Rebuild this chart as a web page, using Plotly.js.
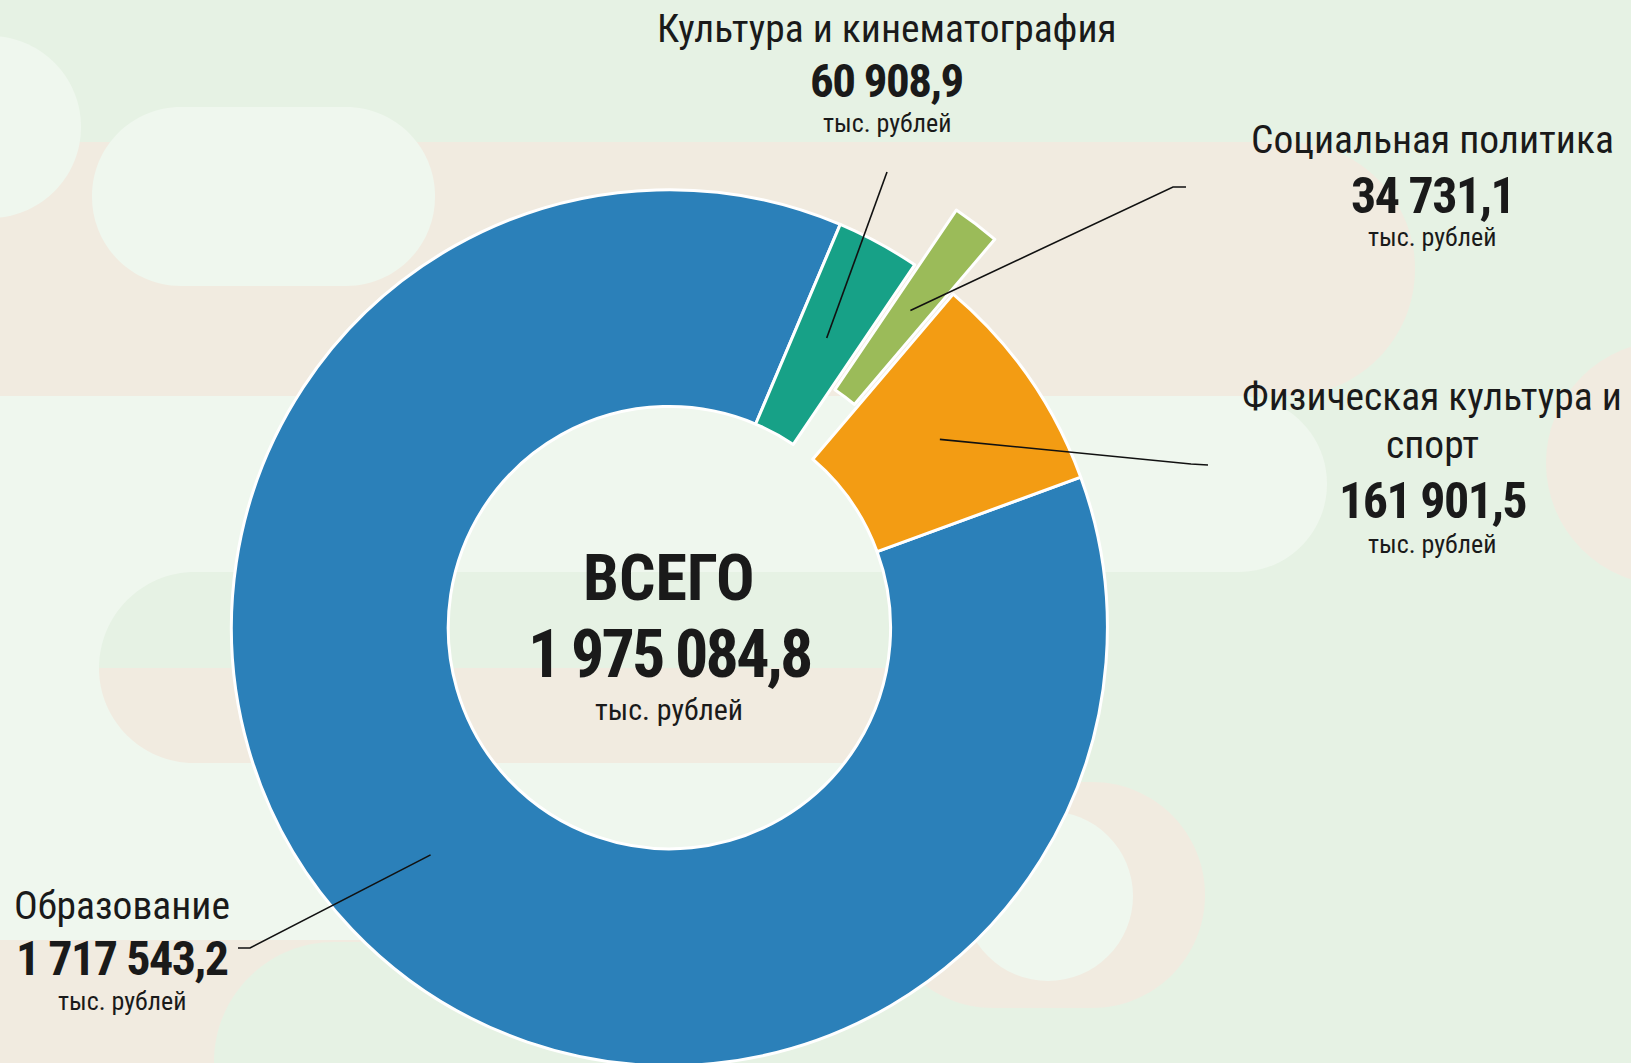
<!DOCTYPE html>
<html><head><meta charset="utf-8">
<script src="https://cdn.plot.ly/plotly-3.0.1.min.js"></script>
<style>
html,body{margin:0;padding:0;overflow:hidden;background:#e6f2e4}
#wrap{position:relative;width:1631px;height:1063px;overflow:hidden}
#chart{position:absolute;left:0;top:0;width:1631px;height:1140px}
</style>
</head><body><div id="wrap"><div id="chart"></div></div>
<script>
// ---- data ----
const categories = ['Образование', 'Культура и кинематография', 'Социальная политика', 'Физическая культура и спорт'];
const values = [1717543.2, 60908.9, 34731.1, 161901.5];
const valueLabels = ['1 717 543,2', '60 908,9', '34 731,1', '161 901,5'];
const labelLines = [['Образование'], ['Культура и кинематография'], ['Социальная политика'], ['Физическая культура и', 'спорт']];
const totalTitle = 'ВСЕГО';
const totalLabel = '1 975 084,8';
const unitLabel = 'тыс. рублей';
const colors = ['#2b80b9', '#17a187', '#9bbb59', '#f39c13'];
const pulls = [0, 0, 0.157, 0];

// ---- layout geometry (px in the 1631 x 1140 plot div) ----
const W = 1631, H = 1140;
const CX = 669.4, CY = 627.7, R = 438, HOLE = 0.505, ROT = 69.9;
const maxPull = Math.max(...pulls);
const S = R * (1 + maxPull);
const px = x => x / W, py = y => 1 - y / H;

const FONT = "Roboto, 'Liberation Sans', sans-serif";
const TXT = '#1a1a1a';
const GREEN = '#e6f2e4', WHITE = '#eff7ee', BEIGE = '#f1ebe0';

function rr(x0, y0, x1, y1, r, color) {
  const k = 0.5523;
  const [tl, tr, br, bl] = r;
  const P = (x, y) => px(x).toFixed(5) + ',' + py(y).toFixed(5);
  let d = 'M' + P(x0 + tl, y0) + ' L' + P(x1 - tr, y0);
  if (tr) d += ' C' + P(x1 - tr + k * tr, y0) + ' ' + P(x1, y0 + tr - k * tr) + ' ' + P(x1, y0 + tr);
  d += ' L' + P(x1, y1 - br);
  if (br) d += ' C' + P(x1, y1 - br + k * br) + ' ' + P(x1 - br + k * br, y1) + ' ' + P(x1 - br, y1);
  d += ' L' + P(x0 + bl, y1);
  if (bl) d += ' C' + P(x0 + bl - k * bl, y1) + ' ' + P(x0, y1 - bl + k * bl) + ' ' + P(x0, y1 - bl);
  d += ' L' + P(x0, y0 + tl);
  if (tl) d += ' C' + P(x0, y0 + tl - k * tl) + ' ' + P(x0 + tl - k * tl, y0) + ' ' + P(x0 + tl, y0);
  d += ' Z';
  return {type: 'path', xref: 'paper', yref: 'paper', path: d, fillcolor: color, line: {width: 0}, layer: 'below'};
}
function circ(cx, cy, r, color) {
  return {type: 'circle', xref: 'paper', yref: 'paper', x0: px(cx - r), x1: px(cx + r), y0: py(cy + r), y1: py(cy - r),
    fillcolor: color, line: {width: 0}, layer: 'below'};
}

const shapes = [
  rr(0, 395, 900, 945, [0, 0, 0, 0], WHITE),
  rr(-300, 142, 1415, 396, [0, 127, 127, 0], BEIGE),
  rr(92, 107, 435, 286, [89, 89, 89, 89], WHITE),
  rr(-150, 36, 81, 218, [91, 91, 91, 91], WHITE),
  rr(-300, 396, 1327, 572, [0, 88, 88, 0], WHITE),
  rr(99, 572, 1000, 668, [96, 0, 0, 0], GREEN),
  rr(99, 668, 1000, 763, [0, 0, 0, 95], BEIGE),
  rr(-10, 940, 600, 1140, [0, 0, 0, 0], BEIGE),
  rr(214, 942, 900, 1180, [120, 0, 0, 0], GREEN),
  rr(880, 782, 1205, 1008, [113, 113, 113, 113], BEIGE),
  circ(1048, 896, 85, WHITE),
  circ(1668, 463, 122, BEIGE)
];

// leader lines: from the label stub to the middle of each slice's ring (angles from the data)
const total = values.reduce((a, b) => a + b, 0);
const stubs = [
  [[238, 948], [250, 948]],
  [[887, 172]],
  [[1186, 187], [1173, 187]],
  [[1208, 465], [1191, 464]]
];
let cum = 0;
values.forEach((v, i) => {
  const mid = (ROT + (cum + v / 2) / total * 360) * Math.PI / 180;
  cum += v;
  const rr2 = R * (1 + HOLE) / 2 + pulls[i] * R;
  const ex = CX + rr2 * Math.sin(mid), ey = CY - rr2 * Math.cos(mid);
  const pts = stubs[i].concat([[ex, ey]]);
  const d = pts.map((p, j) => (j ? 'L' : 'M') + px(p[0]).toFixed(5) + ',' + py(p[1]).toFixed(5)).join(' ');
  shapes.push({type: 'path', xref: 'paper', yref: 'paper', path: d, line: {color: '#111', width: 1.6}, layer: 'above'});
});

// text (cx, baseline in px)
const annotations = [];
function lab(text, cx, base, size, bold, stretch, ls) {
  annotations.push({
    xref: 'paper', yref: 'paper', x: px(cx), y: py(base - 0.342 * size), xanchor: 'center', yanchor: 'middle',
    text: '<span style="font-stretch:' + stretch + '%;letter-spacing:' + ls + 'px">' + text + '</span>',
    showarrow: false, borderpad: 0, font: {family: FONT, size: size, color: TXT, weight: bold ? 700 : 400}
  });
}
const labelPos = [
  {cx: 122, base: [919], num: 975, unit: 1010, ns: 48},
  {cx: 887, base: [42], num: 97, unit: 132, ns: 47},
  {cx: 1432, base: [153], num: 213, unit: 246, ns: 50},
  {cx: 1432, base: [410, 458], num: 518, unit: 553, ns: 50}
];
labelLines.forEach((lines, i) => {
  const p = labelPos[i];
  lines.forEach((t, j) => lab(t, p.cx, p.base[j], 39.5, false, 80, 0));
  lab(valueLabels[i], p.cx, p.num, p.ns, true, 75, -1.5);
  lab(unitLabel, p.cx, p.unit, 26, false, 75, 0);
});
lab(totalTitle, 669, 600, 64, true, 79, 0);
lab(totalLabel, 669, 677, 66, true, 75, -2.8);
lab(unitLabel, 669, 720, 30, false, 75, 0);

const trace = {
  type: 'pie', labels: categories, values: values, sort: false, direction: 'clockwise', rotation: ROT,
  hole: HOLE, pull: pulls,
  marker: {colors: colors, line: {color: '#ffffff', width: 3}},
  textinfo: 'none', hoverinfo: 'skip', showlegend: false,
  domain: {x: [px(CX - S), px(CX + S)], y: [py(CY + S), py(CY - S)]}
};

Plotly.newPlot('chart', [trace], {
  width: W, height: H, margin: {l: 0, r: 0, t: 0, b: 0},
  paper_bgcolor: GREEN, showlegend: false, shapes: shapes, annotations: annotations
}, {staticPlot: true, displayModeBar: false});
</script>
</body></html>
